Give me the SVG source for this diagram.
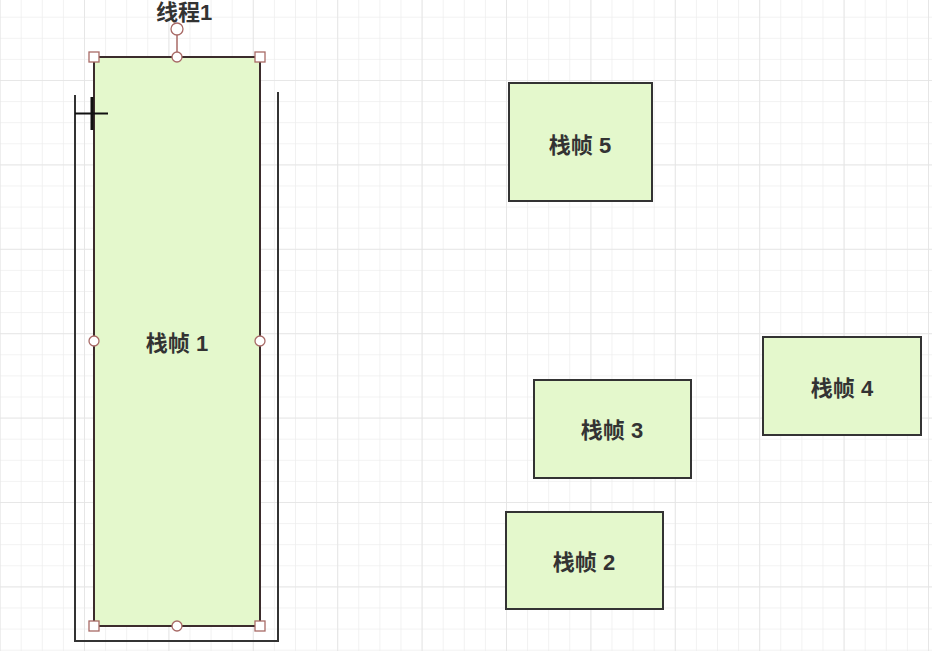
<svg xmlns="http://www.w3.org/2000/svg" width="932" height="651" viewBox="0 0 932 651">
  <defs>
    <pattern id="grid-minor" x="-0.4" y="-4.4" width="21.1" height="21.1" patternUnits="userSpaceOnUse">
      <path d="M0 0H21.1M0 0V21.1" fill="none" stroke="#eeeeee" stroke-width="1.6"/>
    </pattern>
    <pattern id="grid-major" x="-0.4" y="-4.4" width="84.4" height="84.4" patternUnits="userSpaceOnUse">
      <path d="M0 0H84.4M0 0V84.4" fill="none" stroke="#e4e4e4" stroke-width="1.6"/>
    </pattern>
    <style>
      .frame { fill: #e4f8cc; stroke: #333333; stroke-width: 2; }
      .label { font-family: "Liberation Sans", "Noto Sans CJK SC", sans-serif; font-size: 22px; font-weight: bold; fill: #333333; text-anchor: middle; dominant-baseline: central; }
      .handle { fill: #ffffff; stroke: #a86a66; stroke-width: 1.3; }
      .pool { fill: none; stroke: #333333; stroke-width: 2; }
    </style>
  </defs>

  <!-- canvas grid -->
  <rect width="932" height="651" fill="#ffffff"/>
  <rect width="932" height="651" fill="url(#grid-minor)"/>
  <rect width="932" height="651" fill="url(#grid-major)"/>

  <!-- thread container -->
  <g id="thread1">
    <path class="pool" d="M75 95V641H278V92"/>
    <text class="label" x="184" y="12">线程1</text>
  </g>

  <!-- stack frames -->
  <g id="frame1">
    <rect class="frame" x="94" y="57" width="166" height="569" style="stroke:#3b2c2c"/>
    <text class="label" x="177" y="343">栈帧 1</text>
  </g>
  <g id="frame5">
    <rect class="frame" x="509" y="83" width="143" height="118"/>
    <text class="label" x="580" y="145">栈帧 5</text>
  </g>
  <g id="frame4">
    <rect class="frame" x="763" y="337" width="158" height="98"/>
    <text class="label" x="842" y="388">栈帧 4</text>
  </g>
  <g id="frame3">
    <rect class="frame" x="534" y="380" width="157" height="98"/>
    <text class="label" x="612" y="430">栈帧 3</text>
  </g>
  <g id="frame2">
    <rect class="frame" x="506" y="512" width="157" height="97"/>
    <text class="label" x="584" y="562">栈帧 2</text>
  </g>

  <!-- selection handles on frame 1 -->
  <g id="selection">
    <line x1="177" y1="35" x2="177" y2="52" stroke="#a86a66" stroke-width="1.5"/>
    <circle class="handle" cx="177" cy="29" r="6"/>
    <rect class="handle" x="89" y="52" width="10" height="10"/>
    <rect class="handle" x="255" y="52" width="10" height="10"/>
    <rect class="handle" x="89" y="621" width="10" height="10"/>
    <rect class="handle" x="255" y="621" width="10" height="10"/>
    <circle class="handle" cx="177" cy="57" r="5"/>
    <circle class="handle" cx="94" cy="341" r="5"/>
    <circle class="handle" cx="260" cy="341" r="5"/>
    <circle class="handle" cx="177" cy="626" r="5"/>
  </g>

  <!-- pointer crosshair -->
  <g id="cursor" stroke="#111111">
    <line x1="92" y1="97" x2="92" y2="130" stroke-width="3"/>
    <line x1="75" y1="113.5" x2="108" y2="113.5" stroke-width="2"/>
  </g>
</svg>
